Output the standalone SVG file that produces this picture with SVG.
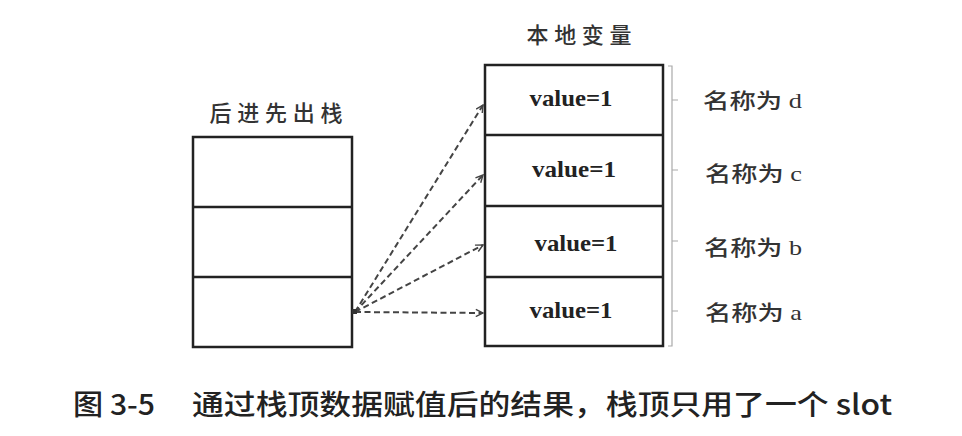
<svg xmlns="http://www.w3.org/2000/svg" width="962" height="436" viewBox="0 0 962 436">
<style>
.box{fill:#fff;stroke:#222;stroke-width:2.5}
.div{stroke:#222;stroke-width:2.5}
.val{font-family:"Liberation Serif",serif;font-size:24px;font-weight:bold;fill:#222;text-anchor:middle}
.name{font-family:"Liberation Serif","Noto Sans CJK SC",serif;font-size:21px;font-weight:500;fill:#333}
.title{font-family:"Noto Sans CJK SC",sans-serif;font-size:22px;font-weight:500;fill:#333}
.cap{font-family:"Noto Sans CJK SC",sans-serif;font-size:28px;font-weight:500;fill:#222}
.conn{fill:none;stroke:#444;stroke-width:2;stroke-dasharray:6 3.5;marker-end:url(#arr)}
.brace{fill:none;stroke:#aaa;stroke-width:1.2}
</style>
<defs>
<marker id="arr" viewBox="0 0 10 10" refX="9" refY="5" markerWidth="9" markerHeight="9" orient="auto" markerUnits="userSpaceOnUse">
<path d="M1,1 L9,5 L1,9" fill="none" stroke="#444" stroke-width="1.6"/>
</marker>
</defs>
<rect width="962" height="436" fill="#fff"/>

<g id="stack">
<text class="title" x="276" y="121" text-anchor="middle" textLength="133" lengthAdjust="spacing">后进先出栈</text>
<rect class="box" x="193" y="137" width="159" height="210"/>
<line class="div" x1="193" y1="207" x2="352" y2="207"/>
<line class="div" x1="193" y1="277" x2="352" y2="277"/>
</g>

<g id="locals">
<text class="title" x="579" y="43" text-anchor="middle" textLength="105" lengthAdjust="spacing">本地变量</text>
<rect class="box" x="485" y="65" width="178" height="281"/>
<line class="div" x1="485" y1="135" x2="663" y2="135"/>
<line class="div" x1="485" y1="206" x2="663" y2="206"/>
<line class="div" x1="485" y1="277" x2="663" y2="277"/>
</g>

<g id="slot-d"><text class="val" x="571" y="106" textLength="83" lengthAdjust="spacingAndGlyphs">value=1</text></g>
<g id="slot-c"><text class="val" x="574" y="177" textLength="84" lengthAdjust="spacingAndGlyphs">value=1</text></g>
<g id="slot-b"><text class="val" x="576" y="251" textLength="83" lengthAdjust="spacingAndGlyphs">value=1</text></g>
<g id="slot-a"><text class="val" x="571" y="318" textLength="83" lengthAdjust="spacingAndGlyphs">value=1</text></g>

<g id="brace">
<path class="brace" d="M668,66 H672 V346 H668"/>
<path class="brace" d="M672,100 H678 M672,170 H678 M672,241 H678 M672,311 H678"/>
</g>

<g id="names">
<text class="name" x="703" y="108" textLength="99" lengthAdjust="spacingAndGlyphs">名称为 d</text>
<text class="name" x="705" y="181" textLength="97" lengthAdjust="spacingAndGlyphs">名称为 c</text>
<text class="name" x="704" y="255" textLength="98" lengthAdjust="spacingAndGlyphs">名称为 b</text>
<text class="name" x="705" y="320" textLength="97" lengthAdjust="spacingAndGlyphs">名称为 a</text>
</g>

<g id="connectors">
<line class="conn" x1="355" y1="312" x2="483" y2="105"/>
<line class="conn" x1="355" y1="312" x2="483" y2="175"/>
<line class="conn" x1="355" y1="312" x2="483" y2="245"/>
<line class="conn" x1="355" y1="312" x2="483" y2="313"/>
</g>
<rect x="352" y="309" width="5" height="5" fill="#333"/>

<g id="caption">
<text class="cap" x="73" y="415" textLength="82" lengthAdjust="spacingAndGlyphs">图 3-5</text>
<text class="cap" x="192" y="415" textLength="700" lengthAdjust="spacingAndGlyphs">通过栈顶数据赋值后的结果，栈顶只用了一个 slot</text>
</g>
</svg>
